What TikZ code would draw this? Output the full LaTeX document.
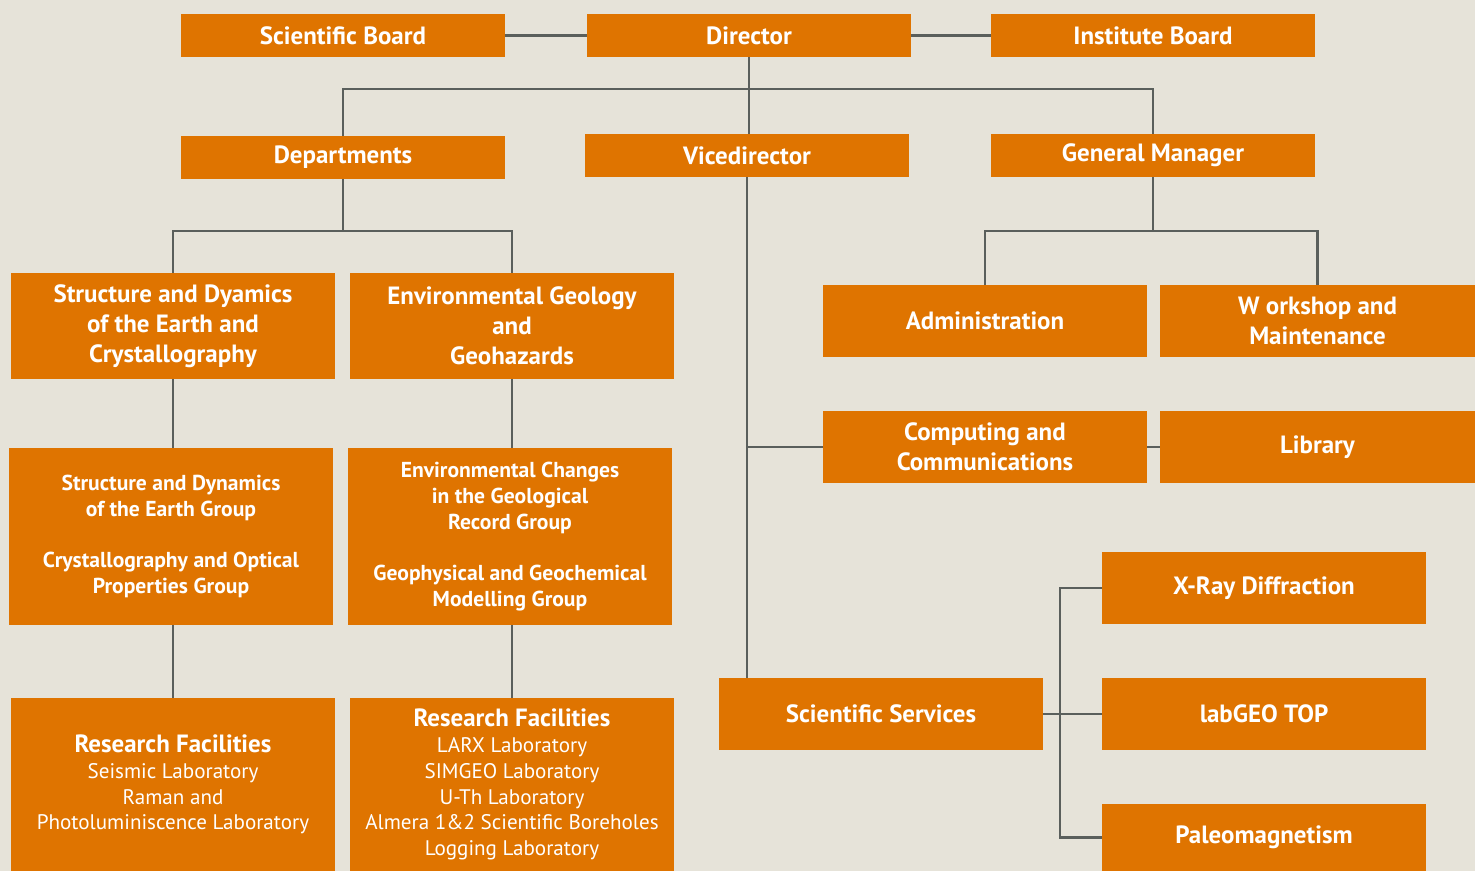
\documentclass[tikz,border=0pt]{standalone}
\usepackage{fontspec}
\setmainfont{PT Sans}
\usetikzlibrary{positioning,calc}

\definecolor{paper}{HTML}{E6E3D9}
\definecolor{unit}{HTML}{DF7400}
\definecolor{wire}{HTML}{5A5F5C}

\tikzset{
  unitbox/.style={fill=unit,text=white,align=center,inner sep=0pt,
    minimum width=6.48cm,minimum height=0.86cm,font=\fontsize{14.2}{17}\selectfont\bfseries},
  tallbox/.style={unitbox,minimum height=1.44cm},
  bigbox/.style={unitbox,minimum height=2.12cm},
  groupbox/.style={unitbox,minimum height=3.54cm,font=\fontsize{12.3}{14.7}\selectfont\bfseries},
  labbox/.style={unitbox,minimum height=3.46cm,font=\fontsize{12}{14.7}\selectfont},
  link/.style={draw=wire,line width=1.3pt}
}
\newcommand{\labhead}[1]{{\fontsize{14.2}{16}\selectfont\bfseries #1}}

\begin{document}
\begin{tikzpicture}[x=0.02cm,y=-0.02cm]
\fill[paper] (0,0) rectangle (1475,871);
\useasboundingbox (0,0) rectangle (1475,871);

% top row
\node[unitbox] (board) at (343,35.5) {Scientific Board};
\node[unitbox] (director) at (749,35.5) {Director};
\node[unitbox] (instboard) at (1153,35.5) {Institute Board};

% second row
\node[unitbox] (depts) at (343,157.5) {Departments};
\node[unitbox] (vice) at (747,155.5) {Vicedirector};
\node[unitbox] (manager) at (1153,155.5) {General Manager};

% departments
\node[bigbox] (sde) at (173,326) {Structure and Dyamics\\of the Earth and\\Crystallography};
\node[bigbox] (egg) at (512,326) {Environmental Geology\\and\\Geohazards};
\node[groupbox] (grpsde) at (171,536.5) {Structure and Dynamics\\of the Earth Group\\[14.7pt]Crystallography and Optical\\Properties Group};
\node[groupbox] (grpegg) at (510,536.5) {Environmental Changes\\in the Geological\\Record Group\\[14.7pt]Geophysical and Geochemical\\Modelling Group};
\node[labbox] (labsde) at (173,784.5) {\labhead{Research Facilities}\\Seismic Laboratory\\Raman and\\Photoluminiscence Laboratory};
\node[labbox] (labegg) at (512,784.5) {\labhead{Research Facilities}\\LARX Laboratory\\SIMGEO Laboratory\\U-Th Laboratory\\Almera 1\&2 Scientific Boreholes\\Logging Laboratory};

% management and services
\node[tallbox] (admin) at (985,321) {Administration};
\node[tallbox,minimum width=6.3cm] (workshop) at (1317.5,321) {W orkshop and\\Maintenance};
\node[tallbox] (comp) at (985,447) {Computing and\\Communications};
\node[tallbox,minimum width=6.3cm] (library) at (1317.5,447) {Library};
\node[tallbox] (services) at (881,714) {Scientific Services};
\node[tallbox] (xray) at (1264,588) {X-Ray Diffraction};
\node[tallbox] (labgeo) at (1264,714) {labGEO TOP};
\node[tallbox,minimum height=1.34cm] (paleo) at (1264,837.5) {Paleomagnetism};

% split points
\coordinate (topsplit) at (748,89);
\coordinate (depsplit) at (341,231);
\coordinate (mansplit) at (1152,231);
\coordinate (servsplit) at (1060,714);

% connectors
\draw[link] (board) -- (director);
\draw[link] (director) -- (instboard);
\draw[link] (director.south) -- (director.south |- vice.north);
\draw[link] (depts.north) -- (depts.north |- topsplit) -- (manager.north |- topsplit) -- (manager.north);
\draw[link] (depts.south) -- (depts.south |- depsplit);
\draw[link] (sde.north) -- (sde.north |- depsplit) -- (egg.north |- depsplit) -- (egg.north);
\draw[link] (sde.south) -- (sde.south |- grpsde.north);
\draw[link] (sde.south |- grpsde.south) -- (sde.south |- labsde.north);
\draw[link] (egg.south) -- (egg.south |- grpegg.north);
\draw[link] (egg.south |- grpegg.south) -- (egg.south |- labegg.north);
\draw[link] (manager.south) -- (manager.south |- mansplit);
\draw[link] (admin.north) -- (admin.north |- mansplit) -- (workshop.north |- mansplit) -- (workshop.north);
\draw[link] (vice.south) -- (vice.south |- services.north);
\draw[link] (vice.south |- comp.west) -- (comp.west);
\draw[link] (comp) -- (library);
\draw[link] (services) -- (labgeo);
\draw[link] (xray.west) -- (xray.west -| servsplit) -- (paleo.west -| servsplit) -- (paleo.west);
\end{tikzpicture}
\end{document}
